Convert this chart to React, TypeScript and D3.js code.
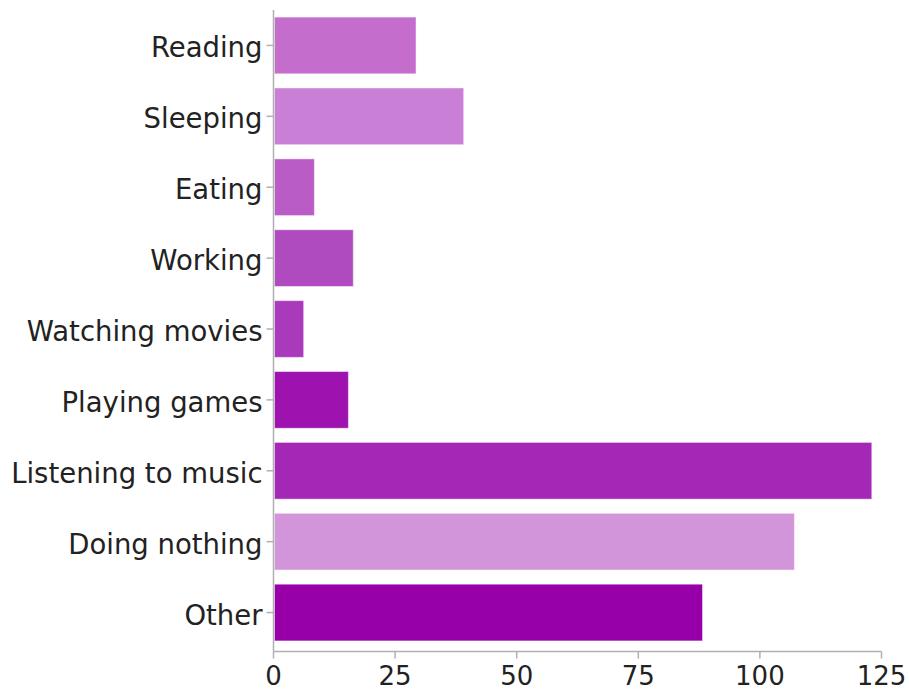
import React from "react";
import * as d3 from "d3";

const categories = [
  "Reading",
  "Sleeping",
  "Eating",
  "Working",
  "Watching movies",
  "Playing games",
  "Listening to music",
  "Doing nothing",
  "Other",
];
const values = [29.3, 39.1, 8.4, 16.4, 6.2, 15.4, 123.0, 107.1, 88.2];
const barColors = [
  "#C46DCC",
  "#C97FD5",
  "#BA5CC5",
  "#B04ABF",
  "#A93ABB",
  "#9E12B0",
  "#A527B6",
  "#D395DA",
  "#9700A8",
];
const xTicks = [0, 25, 50, 75, 100, 125];

export default function App() {
  const W = 909;
  const H = 690;
  const x0 = 273.5;
  const x1 = 881.5;
  const yTop = 10;
  const yBottom = 648;
  const axisY = 651.5;

  const x = d3.scaleLinear().domain([0, 125]).range([x0, x1]);
  const y = d3
    .scaleBand<string>()
    .domain(categories)
    .range([yTop, yBottom])
    .paddingInner(0.2)
    .paddingOuter(0.1);

  const font = "'DejaVu Sans', Verdana, sans-serif";
  const axisColor = "#b0b0b0";
  const textColor = "#222";

  return (
    <svg
      width={W}
      height={H}
      style={{ position: "absolute", left: 0, top: 0, background: "#fff" }}
    >
      {categories.map((c, i) => (
        <rect
          key={c}
          x={x(0) + 1}
          y={y(c)!}
          width={x(values[i]) - x(0) - 1}
          height={y.bandwidth()}
          fill={barColors[i]}
          stroke="#ffffff"
          strokeOpacity={0.45}
          strokeWidth={1}
        />
      ))}
      {/* y axis */}
      <line x1={x0} x2={x0} y1={yTop} y2={axisY} stroke={axisColor} strokeWidth={1.5} />
      {categories.map((c) => {
        const cy = y(c)! + y.bandwidth() / 2;
        return (
          <g key={c}>
            <line x1={x0 - 7} x2={x0} y1={cy} y2={cy} stroke={axisColor} strokeWidth={1.5} />
            <text
              x={x0 - 11}
              y={cy + 2}
              textAnchor="end"
              dominantBaseline="central"
              fontFamily={font}
              fontSize={27.5}
              fill={textColor}
            >
              {c}
            </text>
          </g>
        );
      })}
      {/* x axis */}
      <line x1={x0} x2={x1} y1={axisY} y2={axisY} stroke={axisColor} strokeWidth={1.5} />
      {xTicks.map((t) => (
        <g key={t}>
          <line x1={x(t)} x2={x(t)} y1={axisY} y2={axisY + 7} stroke={axisColor} strokeWidth={1.5} />
          <text
            x={x(t)}
            y={axisY + 24}
            textAnchor="middle"
            dominantBaseline="central"
            fontFamily={font}
            fontSize={26}
            fill={textColor}
          >
            {t}
          </text>
        </g>
      ))}
    </svg>
  );
}
